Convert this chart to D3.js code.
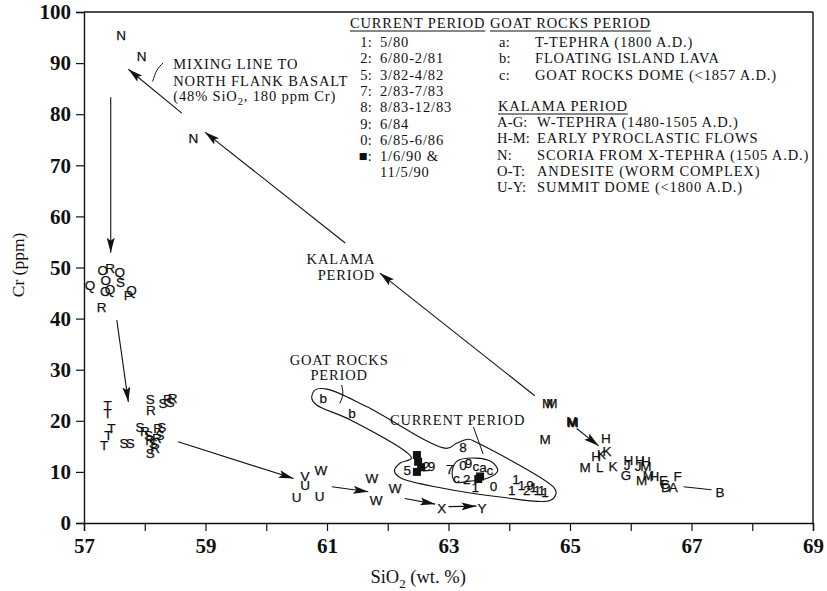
<!DOCTYPE html>
<html><head><meta charset="utf-8">
<script src="https://cdn.jsdelivr.net/npm/d3@7"></script>
<style>
body{margin:0;background:#fff;}
svg{display:block;}
</style></head>
<body>
<svg id="chart" width="827" height="591"></svg>
<script>
// ---------- DATA ----------
const xTicks = [57,58,59,60,61,62,63,64,65,66,67,68,69];
const xTickLabels = [57,59,61,63,65,67,69];
const yTicks = [0,10,20,30,40,50,60,70,80,90,100];

// Kalama period samples [label, SiO2, Cr]
const kalamaN = [["N",57.61,95.5],["N",57.95,91.4],["N",58.80,75.3]];
const kalamaOT = [
  ["Q",57.10,46.6],["O",57.31,49.4],["R",57.43,49.8],["Q",57.59,49.0],["O",57.36,47.6],
  ["S",57.60,47.2],["O",57.35,45.3],["Q",57.43,45.7],["P",57.73,44.6],["Q",57.78,45.6],["R",57.29,42.3],
  ["T",57.39,23.1],["T",57.39,21.5],["T",57.45,18.5],["T",57.40,17.2],["T",57.33,15.3],
  ["S",57.66,15.6],["S",57.76,15.6],["S",58.09,24.3],["R",58.10,22.1],
  ["S",58.30,23.4],["R",58.38,24.2],["S",58.42,23.6],["R",58.46,24.5],
  ["S",57.92,18.8],["R",58.00,17.9],["S",58.06,17.2],["R",58.09,16.2],["S",58.14,15.6],
  ["R",58.17,14.6],["S",58.09,13.6],["R",58.22,18.5],["S",58.25,17.2],["R",58.20,16.6],["S",58.28,18.8]
];
const kalamaUY = [
  ["U",60.50,5.1],["U",60.64,7.4],["V",60.64,9.2],["W",60.90,10.4],["U",60.88,5.3],
  ["W",61.74,8.7],["W",61.81,4.5],["W",62.12,6.8],["X",62.89,2.9],["Y",63.55,2.9]
];
const kalamaAM = [
  ["M",64.63,23.4],["M",64.70,23.4],["M",64.59,16.4],["M",65.03,19.9],["M",65.05,19.7],["M",65.04,19.8],
  ["H",65.59,16.6],["H",65.43,13.0],["K",65.61,14.0],["K",65.52,13.4],["M",65.25,11.0],["L",65.49,11.0],
  ["K",65.71,11.2],["G",65.92,9.4],["H",65.96,12.3],["J",65.94,11.4],["H",66.15,12.3],["H",66.25,12.1],
  ["J",66.12,11.2],["M",66.25,11.2],["M",66.18,8.4],["M",66.29,9.4],["H",66.39,9.1],["E",66.54,8.4],
  ["C",66.56,7.6],["D",66.58,7.1],["A",66.70,7.0],["F",66.77,9.2],["B",67.47,6.0]
];
// Goat Rocks period samples
const goatRocks = [["b",60.94,24.4],["b",61.41,21.5],["c",63.45,11.2],["a",63.57,10.9],["c",63.68,10.4],["c",63.13,8.7]];
// Current period samples
const currentPts = [
  ["5",62.32,10.4],["2",62.63,11.2],["9",62.72,11.2],["7",63.02,10.5],["0",63.24,11.4],["9",63.33,11.7],
  ["8",63.24,14.9],["2",63.30,8.5],["1",63.44,7.1],["0",63.74,7.2],
  ["1",64.11,8.5],["1",64.04,6.5],["2",64.29,6.5],["1",64.20,7.4],["9",64.34,7.4],
  ["1",64.40,7.1],["1",64.46,6.5],["1",64.53,6.5],["1",64.59,6.1]
];
// 1990 samples (filled squares)
const squares1990 = [[62.48,13.3],[62.50,12.0],[62.48,10.0],[62.55,10.9],[63.52,9.1],[63.49,8.6]];

// arrows [x1,y1,x2,y2] (head at 2nd point)
const arrows = [
  [58.61,80.2,57.73,88.8],[61.30,54.8,58.99,76.5],[64.42,24.9,61.87,48.9],
  [57.44,83.3,57.44,52.9],[57.54,39.7,57.73,23.7],[58.55,15.9,60.45,8.7],
  [61.08,7.1,61.68,6.1],[62.28,4.8,62.78,3.7],[63.00,3.2,63.46,3.3],[65.11,18.5,65.47,15.1]
];
const plainLines = [[66.87,7.1,67.33,6.5]];

// hand-drawn field outlines
const outlineOuter = [
  [60.80,26.0],[61.00,26.2],[61.65,22.8],[62.97,14.6],[63.13,15.6],[63.33,16.4],[63.44,15.9],
  [64.73,7.0],[64.77,5.8],[64.67,4.4],[63.85,5.1],[62.91,6.8],[62.20,8.9],[62.11,10.2],
  [62.20,11.7],[62.39,12.7],[61.38,20.2],[60.83,23.1],[60.75,24.4]
];
const outlineInner = [[63.13,12.0],[63.44,12.7],[63.72,11.9],[63.81,10.2],[63.65,8.8],[63.35,8.2],[63.12,8.0],[63.06,9.6]];

// leader strokes
const leaders = [
  [[58.13,86.4],[58.20,88.6],[58.30,90.0]],
  [[61.24,27.0],[61.26,25.2],[61.21,23.4]],
  [[63.41,18.8],[63.57,13.5]]
];

// annotation texts [text, SiO2, Cr(baseline), anchor]
const annotations = [
  ["MIXING LINE TO",58.47,88.8,"start"],
  ["NORTH FLANK BASALT",58.47,85.6,"start"],
  ["KALAMA",61.23,50.7,"middle"],
  ["PERIOD",61.32,47.6,"middle"],
  ["GOAT ROCKS",61.20,30.9,"middle"],
  ["PERIOD",61.20,27.9,"middle"],
  ["CURRENT PERIOD",63.15,19.1,"middle"]
];

const legendCurrentTitle = "CURRENT PERIOD";
const legendCurrentKeys = ["1:","2:","5:","7:","8:","9:","0:","■:",""];
const legendCurrentVals = ["5/80","6/80-2/81","3/82-4/82","2/83-7/83","8/83-12/83","6/84","6/85-6/86","1/6/90 &","11/5/90"];
const legendGoatTitle = "GOAT ROCKS PERIOD";
const legendGoatKeys = ["a:","b:","c:"];
const legendGoatVals = ["T-TEPHRA (1800 A.D.)","FLOATING ISLAND LAVA","GOAT ROCKS DOME (<1857 A.D.)"];
const legendKalamaTitle = "KALAMA PERIOD";
const legendKalamaKeys = ["A-G:","H-M:","N:","O-T:","U-Y:"];
const legendKalamaVals = ["W-TEPHRA (1480-1505 A.D.)","EARLY PYROCLASTIC FLOWS","SCORIA FROM X-TEPHRA (1505 A.D.)","ANDESITE (WORM COMPLEX)","SUMMIT DOME (<1800 A.D.)"];

// ---------- DRAW ----------
const svg = d3.select("#chart");
const x = d3.scaleLinear().domain([57,69]).range([84,813]);
const y = d3.scaleLinear().domain([0,100]).range([523,12]);
const serif = "'Liberation Serif','Times New Roman',serif";
const sans = "'Liberation Sans',Arial,sans-serif";
const ink = "#111";
const tSize = 14.5, tSpace = 0.85;

svg.append("defs").append("marker")
  .attr("id","ah").attr("viewBox","0 0 15 8").attr("refX",15).attr("refY",4)
  .attr("markerWidth",15).attr("markerHeight",8).attr("markerUnits","userSpaceOnUse")
  .attr("orient","auto")
  .append("path").attr("d","M0,0 L15,4 L0,8 L3,4 Z").attr("fill",ink);

// axes
const xAxis = d3.axisBottom(x).tickValues(xTicks).tickSize(8)
  .tickFormat(d => xTickLabels.includes(d) ? d : "");
const gx = svg.append("g").attr("transform","translate(0,523)").call(xAxis);
gx.select(".domain").attr("stroke",ink).attr("stroke-width",1.4);
gx.selectAll(".tick line").attr("stroke",ink).attr("stroke-width",1.2);
gx.selectAll(".tick text").attr("font-family",serif).attr("font-weight","bold")
  .attr("font-size",21).attr("fill",ink).attr("dy","0.9em");

const yAxis = d3.axisLeft(y).tickValues(yTicks).tickSize(8).tickPadding(5);
const gy = svg.append("g").attr("transform","translate(84,0)").call(yAxis);
gy.select(".domain").attr("stroke",ink).attr("stroke-width",1.4);
gy.selectAll(".tick line").attr("stroke",ink).attr("stroke-width",1.2);
gy.selectAll(".tick text").attr("font-family",serif).attr("font-weight","bold")
  .attr("font-size",21).attr("fill",ink);

// frame top & right
svg.append("line").attr("x1",x(57)).attr("x2",x(69)).attr("y1",y(100)).attr("y2",y(100)).attr("stroke",ink).attr("stroke-width",1.4);
svg.append("line").attr("x1",x(69)).attr("x2",x(69)).attr("y1",y(100)).attr("y2",y(0)).attr("stroke",ink).attr("stroke-width",1.4);

// axis titles
svg.append("text").attr("transform","translate(24,"+y(50.5)+") rotate(-90)")
  .attr("text-anchor","middle").attr("font-family",serif).attr("font-size",17.5).attr("fill",ink).text("Cr (ppm)");
const xt = svg.append("text").attr("x",x(62.5)).attr("y",583).attr("text-anchor","middle")
  .attr("font-family",serif).attr("font-size",18.5).attr("fill",ink);
xt.append("tspan").text("SiO");
xt.append("tspan").attr("font-size",13).attr("dy",5).text("2");
xt.append("tspan").attr("dy",-5).text(" (wt. %)");

// outlines
const lineGen = d3.line().x(d=>x(d[0])).y(d=>y(d[1])).curve(d3.curveCatmullRomClosed.alpha(0.5));
svg.append("path").attr("d",lineGen(outlineOuter)).attr("fill","none").attr("stroke",ink).attr("stroke-width",1.1);
svg.append("path").attr("d",lineGen(outlineInner)).attr("fill","none").attr("stroke",ink).attr("stroke-width",1.1);

const openGen = d3.line().x(d=>x(d[0])).y(d=>y(d[1])).curve(d3.curveNatural);
leaders.forEach(l => svg.append("path").attr("d",openGen(l)).attr("fill","none").attr("stroke",ink).attr("stroke-width",1));

// arrows
svg.append("g").selectAll("line").data(arrows).join("line")
  .attr("x1",d=>x(d[0])).attr("y1",d=>y(d[1])).attr("x2",d=>x(d[2])).attr("y2",d=>y(d[3]))
  .attr("stroke",ink).attr("stroke-width",1.1).attr("marker-end","url(#ah)");
svg.append("g").selectAll("line").data(plainLines).join("line")
  .attr("x1",d=>x(d[0])).attr("y1",d=>y(d[1])).attr("x2",d=>x(d[2])).attr("y2",d=>y(d[3]))
  .attr("stroke",ink).attr("stroke-width",1.1);

// squares
svg.append("g").selectAll("rect").data(squares1990).join("rect")
  .attr("x",d=>x(d[0])-4).attr("y",d=>y(d[1])-4).attr("width",8).attr("height",8).attr("fill",ink);

// point letters
const allPts = [].concat(kalamaN, kalamaOT, kalamaUY, kalamaAM, goatRocks, currentPts);
svg.append("g").selectAll("text").data(allPts).join("text")
  .attr("x",d=>x(d[1])).attr("y",d=>y(d[2])).attr("dy","0.36em")
  .attr("text-anchor","middle").attr("font-family",sans).attr("font-size",13.5).attr("fill",ink)
  .attr("stroke",ink).attr("stroke-width",0.25)
  .text(d=>d[0]);

// annotations
svg.append("g").selectAll("text").data(annotations).join("text")
  .attr("x",d=>x(d[1])).attr("y",d=>y(d[2])).attr("text-anchor",d=>d[3])
  .attr("font-family",serif).attr("font-size",tSize).attr("letter-spacing",tSpace).attr("fill",ink)
  .text(d=>d[0]);
const mix3 = svg.append("text").attr("x",x(58.47)).attr("y",y(82.6))
  .attr("font-family",serif).attr("font-size",tSize).attr("letter-spacing",tSpace).attr("fill",ink);
mix3.append("tspan").text("(48% SiO");
mix3.append("tspan").attr("font-size",10.5).attr("dy",4).text("2");
mix3.append("tspan").attr("dy",-4).text(", 180 ppm Cr)");

// legend
const lg = svg.append("g").attr("font-family",serif).attr("font-size",tSize).attr("fill",ink).attr("letter-spacing",tSpace);
function heading(txt, lx, ly){
  const t = lg.append("text").attr("x",lx).attr("y",ly).text(txt);
  const w = t.node().getComputedTextLength();
  lg.append("line").attr("x1",lx).attr("x2",lx+w).attr("y1",ly+3).attr("y2",ly+3).attr("stroke",ink).attr("stroke-width",1);
}
function items(keys, vals, kx, kAnchor, vx, y0, dy){
  keys.forEach((k,i)=>{
    lg.append("text").attr("x",kx).attr("y",y0+i*dy).attr("text-anchor",kAnchor)
      .attr("letter-spacing",0.2).text(k);
    lg.append("text").attr("x",vx).attr("y",y0+i*dy).text(vals[i]);
  });
}
heading(legendCurrentTitle, 350, 28);
items(legendCurrentKeys, legendCurrentVals, 372, "end", 380, 47, 16.3);
heading(legendGoatTitle, 490, 28);
items(legendGoatKeys, legendGoatVals, 499, "start", 535, 47, 16.3);
heading(legendKalamaTitle, 498, 111);
items(legendKalamaKeys, legendKalamaVals, 497, "start", 537, 127, 16.3);
</script>
</body></html>
